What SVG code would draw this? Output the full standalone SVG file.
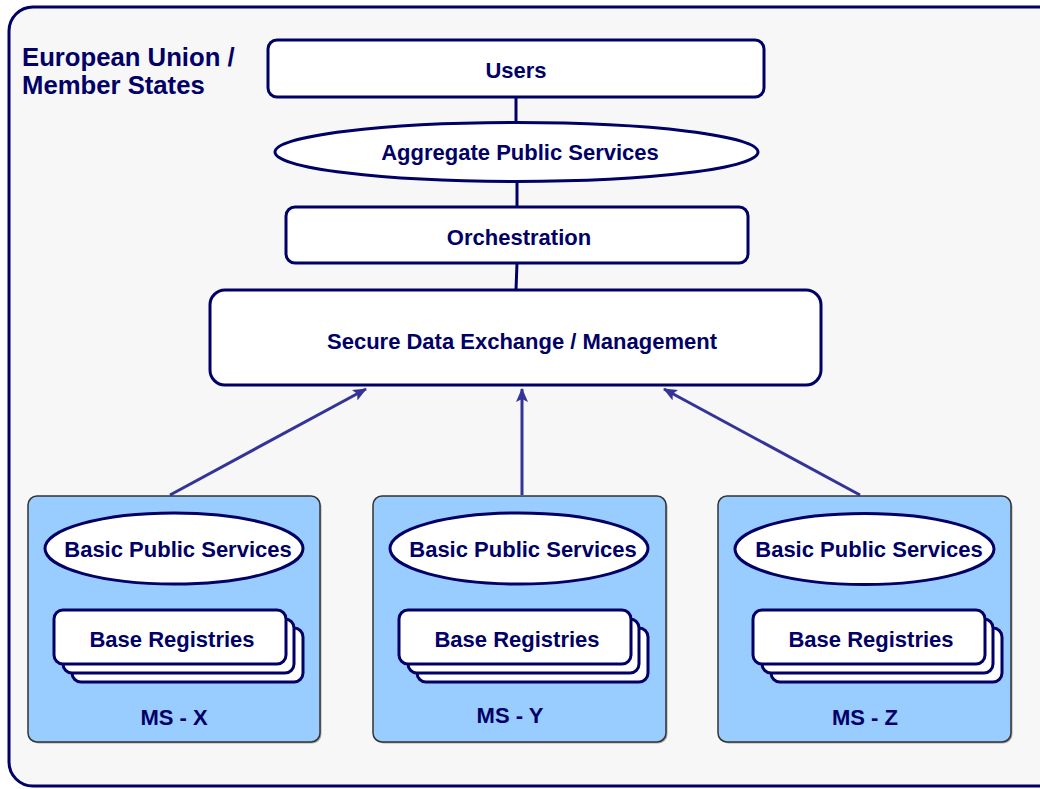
<svg xmlns="http://www.w3.org/2000/svg" width="1040" height="789" viewBox="0 0 1040 789">
<defs>
<style>
.t{font-family:"Liberation Sans",Arial,sans-serif;font-weight:bold;fill:#000066;}
.c{text-anchor:middle;font-size:22px;}
.box{fill:#ffffff;stroke:#000066;stroke-width:3;}
.ms{fill:#99ccff;stroke:#333333;stroke-width:1.5;}
.sh{fill:#aaaaaa;}
.ln{stroke:#000066;stroke-width:3;fill:none;}
.ar{stroke:#333399;stroke-width:3;fill:none;marker-end:url(#ah);}
</style>
<marker id="ah" markerUnits="userSpaceOnUse" markerWidth="14" markerHeight="12" viewBox="0 0 14 12" refX="13" refY="6" orient="auto">
<path d="M0,0 L14,6 L0,12 L3,6 Z" fill="#333399"/>
</marker>
</defs>
<rect x="0" y="0" width="1040" height="789" fill="#ffffff"/>
<g id="container">
<rect x="9" y="7" width="1055" height="779" rx="24" fill="#f7f7f7" stroke="#000066" stroke-width="3"/>
<text class="t" x="22" y="66" font-size="25.7">European Union /</text>
<text class="t" x="22" y="94" font-size="25.7">Member States</text>
</g>
<g id="connectors">
<line class="ln" x1="516" y1="97" x2="516" y2="122"/>
<line class="ln" x1="517" y1="181" x2="517" y2="207"/>
<line class="ln" x1="517" y1="263" x2="516" y2="290"/>
<line class="ar" x1="170" y1="495" x2="366" y2="389"/>
<line class="ar" x1="522" y1="495" x2="522" y2="389"/>
<line class="ar" x1="860" y1="495" x2="664" y2="389"/>
<line class="ln" x1="174" y1="584" x2="169" y2="610"/>
<line class="ln" x1="519" y1="584" x2="515" y2="610"/>
<line class="ln" x1="865" y1="584" x2="868" y2="610"/>
</g>
<g id="users">
<rect class="box" x="268" y="40" width="496" height="57" rx="9"/>
<text class="t c" x="516" y="78">Users</text>
</g>
<g id="aggregate">
<ellipse class="box" cx="516.5" cy="152" rx="241.5" ry="29.5"/>
<text class="t c" x="520" y="160">Aggregate Public Services</text>
</g>
<g id="orchestration">
<rect class="box" x="286" y="207" width="462" height="56" rx="9"/>
<text class="t c" x="519" y="245">Orchestration</text>
</g>
<g id="sde">
<rect class="box" x="210" y="290" width="611" height="95" rx="15"/>
<text class="t c" x="522" y="349">Secure Data Exchange / Management</text>
</g>
<g id="ms-x">
<rect class="sh" x="29.5" y="497.5" width="292" height="246" rx="9"/>
<rect class="ms" x="28" y="496" width="292" height="246" rx="9"/>
<ellipse class="box" cx="174" cy="548.5" rx="129" ry="35.5"/>
<text class="t c" x="178" y="557">Basic Public Services</text>
<rect class="box" x="72" y="628" width="231" height="54" rx="9"/>
<rect class="box" x="63" y="619" width="231" height="54" rx="9"/>
<rect class="box" x="54" y="610" width="232" height="54" rx="9"/>
<text class="t c" x="172" y="647">Base Registries</text>
<text class="t c" x="174" y="725">MS - X</text>
</g>
<g id="ms-y">
<rect class="sh" x="374.5" y="497.5" width="293" height="246" rx="9"/>
<rect class="ms" x="373" y="496" width="293" height="246" rx="9"/>
<ellipse class="box" cx="519" cy="548.5" rx="129" ry="35.5"/>
<text class="t c" x="523" y="557">Basic Public Services</text>
<rect class="box" x="417" y="628" width="231" height="54" rx="9"/>
<rect class="box" x="408" y="619" width="231" height="54" rx="9"/>
<rect class="box" x="399" y="610" width="232" height="54" rx="9"/>
<text class="t c" x="517" y="647">Base Registries</text>
<text class="t c" x="510" y="723">MS - Y</text>
</g>
<g id="ms-z">
<rect class="sh" x="719.5" y="497.5" width="293" height="246" rx="9"/>
<rect class="ms" x="718" y="496" width="293" height="246" rx="9"/>
<ellipse class="box" cx="864.5" cy="549" rx="129.5" ry="35.5"/>
<text class="t c" x="869" y="557">Basic Public Services</text>
<rect class="box" x="771" y="628" width="231" height="54" rx="9"/>
<rect class="box" x="762" y="619" width="231" height="54" rx="9"/>
<rect class="box" x="753" y="610" width="232" height="54" rx="9"/>
<text class="t c" x="871" y="647">Base Registries</text>
<text class="t c" x="865" y="725">MS - Z</text>
</g>
</svg>
